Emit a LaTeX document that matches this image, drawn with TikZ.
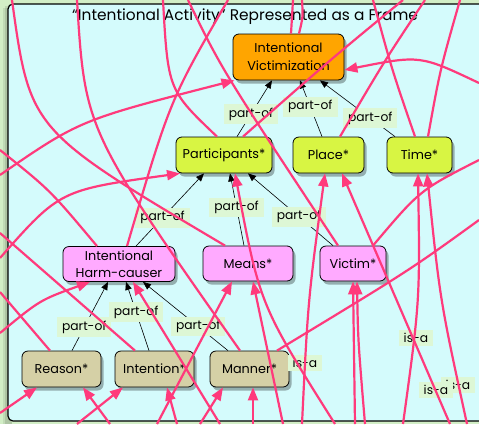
\documentclass[tikz,border=0pt]{standalone}
\usepackage{fontspec}
\setmainfont{Poppins}
\usetikzlibrary{arrows.meta,shadows}

\definecolor{pagegreen}{HTML}{D2EEC6}
\definecolor{framefill}{HTML}{D4FBFC}
\definecolor{ivorange}{HTML}{FFA500}
\definecolor{limefill}{HTML}{D8F543}
\definecolor{violetfill}{HTML}{FFAAFF}
\definecolor{tanfill}{HTML}{D5D0A6}
\definecolor{linkpink}{HTML}{FF3A7C}
\definecolor{tagfill}{HTML}{DDF7D5}

\newcommand{\boxfont}{\fontsize{12.8}{18}\selectfont}
\newcommand{\tagfont}{\fontsize{12.3}{14}\selectfont}

\tikzset{
  framebox/.style={draw=black, line width=0.8pt, rounded corners=6pt, align=center,
    inner sep=0pt, font=\boxfont,
    drop shadow={shadow xshift=2.5pt, shadow yshift=-3.5pt, fill=black, opacity=0.3}},
  ivbox/.style={framebox, fill=ivorange, minimum width=111pt, minimum height=46pt},
  limebox/.style={framebox, fill=limefill, minimum height=36pt},
  violetbox/.style={framebox, fill=violetfill, minimum height=35pt},
  tanbox/.style={framebox, fill=tanfill, minimum height=36pt},
  partof/.style={-{Triangle[length=8pt,width=6.5pt]}, draw=black, line width=0.6pt},
  tag/.style={fill=tagfill, inner xsep=5pt, inner ysep=3.5pt, font=\tagfont, text=black},
  link/.style={draw=linkpink, line width=2.2pt},
  linkarrow/.style={link, -{Triangle[length=13pt,width=10pt]}},
}

\begin{document}
\begin{tikzpicture}[x=1pt, y=-1pt]
  % page and frame
  \useasboundingbox (0,0) rectangle (479,424);
  \fill[pagegreen] (0,0) rectangle (479,424);
  \fill[black, opacity=0.10] (5,6) rectangle (12,424);
  \fill[black, opacity=0.08] (3,8) rectangle (12,424);
  \filldraw[fill=framefill, draw=black, line width=1.2pt, rounded corners=5pt]
    (8,4) rectangle (495,421);

  \node[font=\fontsize{15.4}{17}\selectfont] (title) at (245,17)
    {“Intentional Activity” Represented as a Frame};

  % frame slots
  \node[ivbox] (iv) at (288.5,57) {Intentional\\Victimization};
  \node[limebox, minimum width=96pt] (part) at (224,155) {Participants*};
  \node[limebox, minimum width=71pt] (place) at (328.5,155) {Place*};
  \node[limebox, minimum width=65pt] (time) at (419.5,155) {Time*};
  \node[violetbox, minimum width=112pt] (harm) at (119,264) {Intentional\\[-1pt]Harm-causer};
  \node[violetbox, minimum width=90pt] (means) at (248,263.5) {Means*};
  \node[violetbox, minimum width=66pt] (victim) at (353,263.5) {Victim*};
  \node[tanbox, minimum width=79pt] (reason) at (61.5,369) {Reason*};
  \node[tanbox, minimum width=79pt] (intent) at (154.5,369) {Intention*};
  \node[tanbox, minimum width=79pt] (manner) at (249.5,369) {Manner*};

  % part-of links
  \draw[partof] ([xshift=13pt]part.north) -- node[tag, pos=0.40] (po1) {part-of} ([xshift=-16.5pt]iv.south);
  \draw[partof] ([xshift=-6.5pt]place.north) -- node[tag, pos=0.53] (po2) {part-of} ([xshift=11.5pt]iv.south);
  \draw[partof] ([xshift=-24.5pt]time.north) -- node[tag, pos=0.33] (po3) {part-of} ([xshift=31.5pt]iv.south);
  \draw[partof] ([xshift=17pt]harm.north) -- node[tag, pos=0.39] (po4) {part-of} ([xshift=-20pt]part.south);
  \draw[partof] ([xshift=-4pt]means.north) -- node[tag, pos=0.53] (po5) {part-of} ([xshift=6pt]part.south);
  \draw[partof] ([xshift=-20pt]victim.north) -- node[tag, pos=0.40] (po6) {part-of} ([xshift=24pt]part.south);
  \draw[partof] ([xshift=10.5pt]reason.north) -- node[tag, pos=0.34] (po7) {part-of} ([xshift=-11pt]harm.south);
  \draw[partof] ([xshift=-5.5pt]intent.north) -- node[tag, pos=0.56] (po8) {part-of} ([xshift=7pt]harm.south);
  \draw[partof] ([xshift=-21.5pt]manner.north) -- node[tag, pos=0.35] (po9) {part-of} ([xshift=24pt]harm.south);

  % is-a tags
  \node[tag] (isa1) at (458,385) {is-a};
  \node[tag] (isa2) at (436,390) {is-a};
  \node[tag] (isa3) at (416,338) {is-a};
  \node[tag] (isa4) at (305,363) {is-a};

  % loose ends of the incoming links
  \coordinate (w150) at (0,150);
  \coordinate (w175) at (0,175);
  \coordinate (w233) at (0,233);
  \coordinate (w258) at (0,258);
  \coordinate (w292) at (0,292);
  \coordinate (w333) at (0,333);
  \coordinate (w413) at (0,413);
  \coordinate (e83) at (479,83);
  \coordinate (e160) at (479,160);
  \coordinate (e220) at (479,220);
  \coordinate (n12) at (12,0);
  \coordinate (n77) at (77,0);
  \coordinate (n163) at (163,0);
  \coordinate (n188) at (188,0);
  \coordinate (n228) at (228,0);
  \coordinate (n293) at (293,0);
  \coordinate (n302) at (302,0);
  \coordinate (n373) at (373,0);
  \coordinate (n403) at (403,0);
  \coordinate (n425) at (425,0);
  \coordinate (n460) at (460,0);
  \coordinate (s77) at (77,424);
  \coordinate (s110) at (110,424);
  \coordinate (s157) at (157,424);
  \coordinate (s177) at (177,424);
  \coordinate (s200) at (200,424);
  \coordinate (s220) at (220,424);
  \coordinate (s253) at (253,424);
  \coordinate (s283) at (283,424);
  \coordinate (s302) at (302,424);
  \coordinate (s335) at (335,424);
  \coordinate (s355) at (355,424);
  \coordinate (s365) at (365,424);
  \coordinate (s403) at (403,424);
  \coordinate (s450) at (450,424);
  \coordinate (s467) at (467,424);

  % is-a links
  \draw[linkarrow] (w175) .. controls (80,120) .. ([xshift=-54pt]iv.south);
  \draw[linkarrow] (e83) .. controls (420,55) .. ([yshift=-13pt]iv.east);
  \draw[linkarrow] (w258) .. controls (60,190) .. ([xshift=-44pt]part.south);
  \draw[link] (n12) .. controls (30,130) .. ([xshift=-23pt]means.north);
  \draw[link] (n77) .. controls (85,130) .. ([xshift=-9.5pt]manner.north);
  \draw[link] (n163) .. controls (168,90) .. ([xshift=-7pt]part.north);
  \draw[link] (n188) .. controls (222,70) .. ([xshift=-15pt]victim.north);
  \draw[link] (n228) .. controls (170,100) .. ([xshift=8pt]harm.north);
  \draw[link] (n293) -- ([xshift=2.5pt]iv.north);
  \draw[link] (n302) .. controls (303,17) .. ([xshift=10.5pt]iv.north);
  \draw[link] (n403) .. controls (330,60) .. ([xshift=19pt]part.north);
  \draw[link] (n425) .. controls (385,60) .. ([xshift=11.5pt]place.north);
  \draw[link] (n373) .. controls (392,70) .. ([xshift=-4.5pt]time.north);
  \draw[link] (n460) .. controls (440,70) .. ([xshift=8.5pt]time.north);
  \draw[link] (e160) .. controls (420,190) .. ([xshift=20pt]victim.north);
  \draw[link] (e220) .. controls (410,270) .. ([xshift=27.5pt]manner.north);
  \draw[link] (w150) .. controls (50,190) .. ([xshift=-22pt]harm.north);
  \draw[link] (w233) -- ([xshift=-19.5pt]intent.north);
  \draw[link] (w292) -- ([xshift=-11.5pt]reason.north);

  \draw[linkarrow] (w333) .. controls (40,300) .. ([xshift=-29pt]harm.south);
  \draw[linkarrow] (s220) -- ([xshift=14pt]harm.south);
  \draw[linkarrow] (w413) -- ([xshift=-24.5pt]reason.south);
  \draw[linkarrow] (s110) -- ([xshift=21.5pt]reason.south);
  \draw[linkarrow] (s77) -- ([xshift=-31.5pt]intent.south);
  \draw[linkarrow] (s177) -- ([xshift=12.5pt]intent.south);
  \draw[linkarrow] (s200) -- ([xshift=-26.5pt]manner.south);
  \draw[linkarrow] (s253) -- ([xshift=3.5pt]manner.south);
  \draw[linkarrow] (s157) -- ([xshift=-16pt]means.south);
  \draw[linkarrow] (s283) -- ([xshift=5pt]means.south);
  \draw[linkarrow] (s302) .. controls (308,300) .. ([xshift=-3.5pt]place.south);
  \draw[linkarrow] (s450) -- ([xshift=13.5pt]place.south);
  \draw[linkarrow] (s403) .. controls (420,300) .. ([xshift=-1.5pt]time.south);
  \draw[linkarrow] (s467) .. controls (440,300) .. ([xshift=7.5pt]time.south);
  \draw[linkarrow] (s355) -- (victim.south);
  \draw[linkarrow] (s365) .. controls (358,340) .. ([xshift=4pt]victim.south);
  \draw[linkarrow] (s335) .. controls (260,305) .. ([xshift=11pt]part.south);
\end{tikzpicture}
\end{document}
